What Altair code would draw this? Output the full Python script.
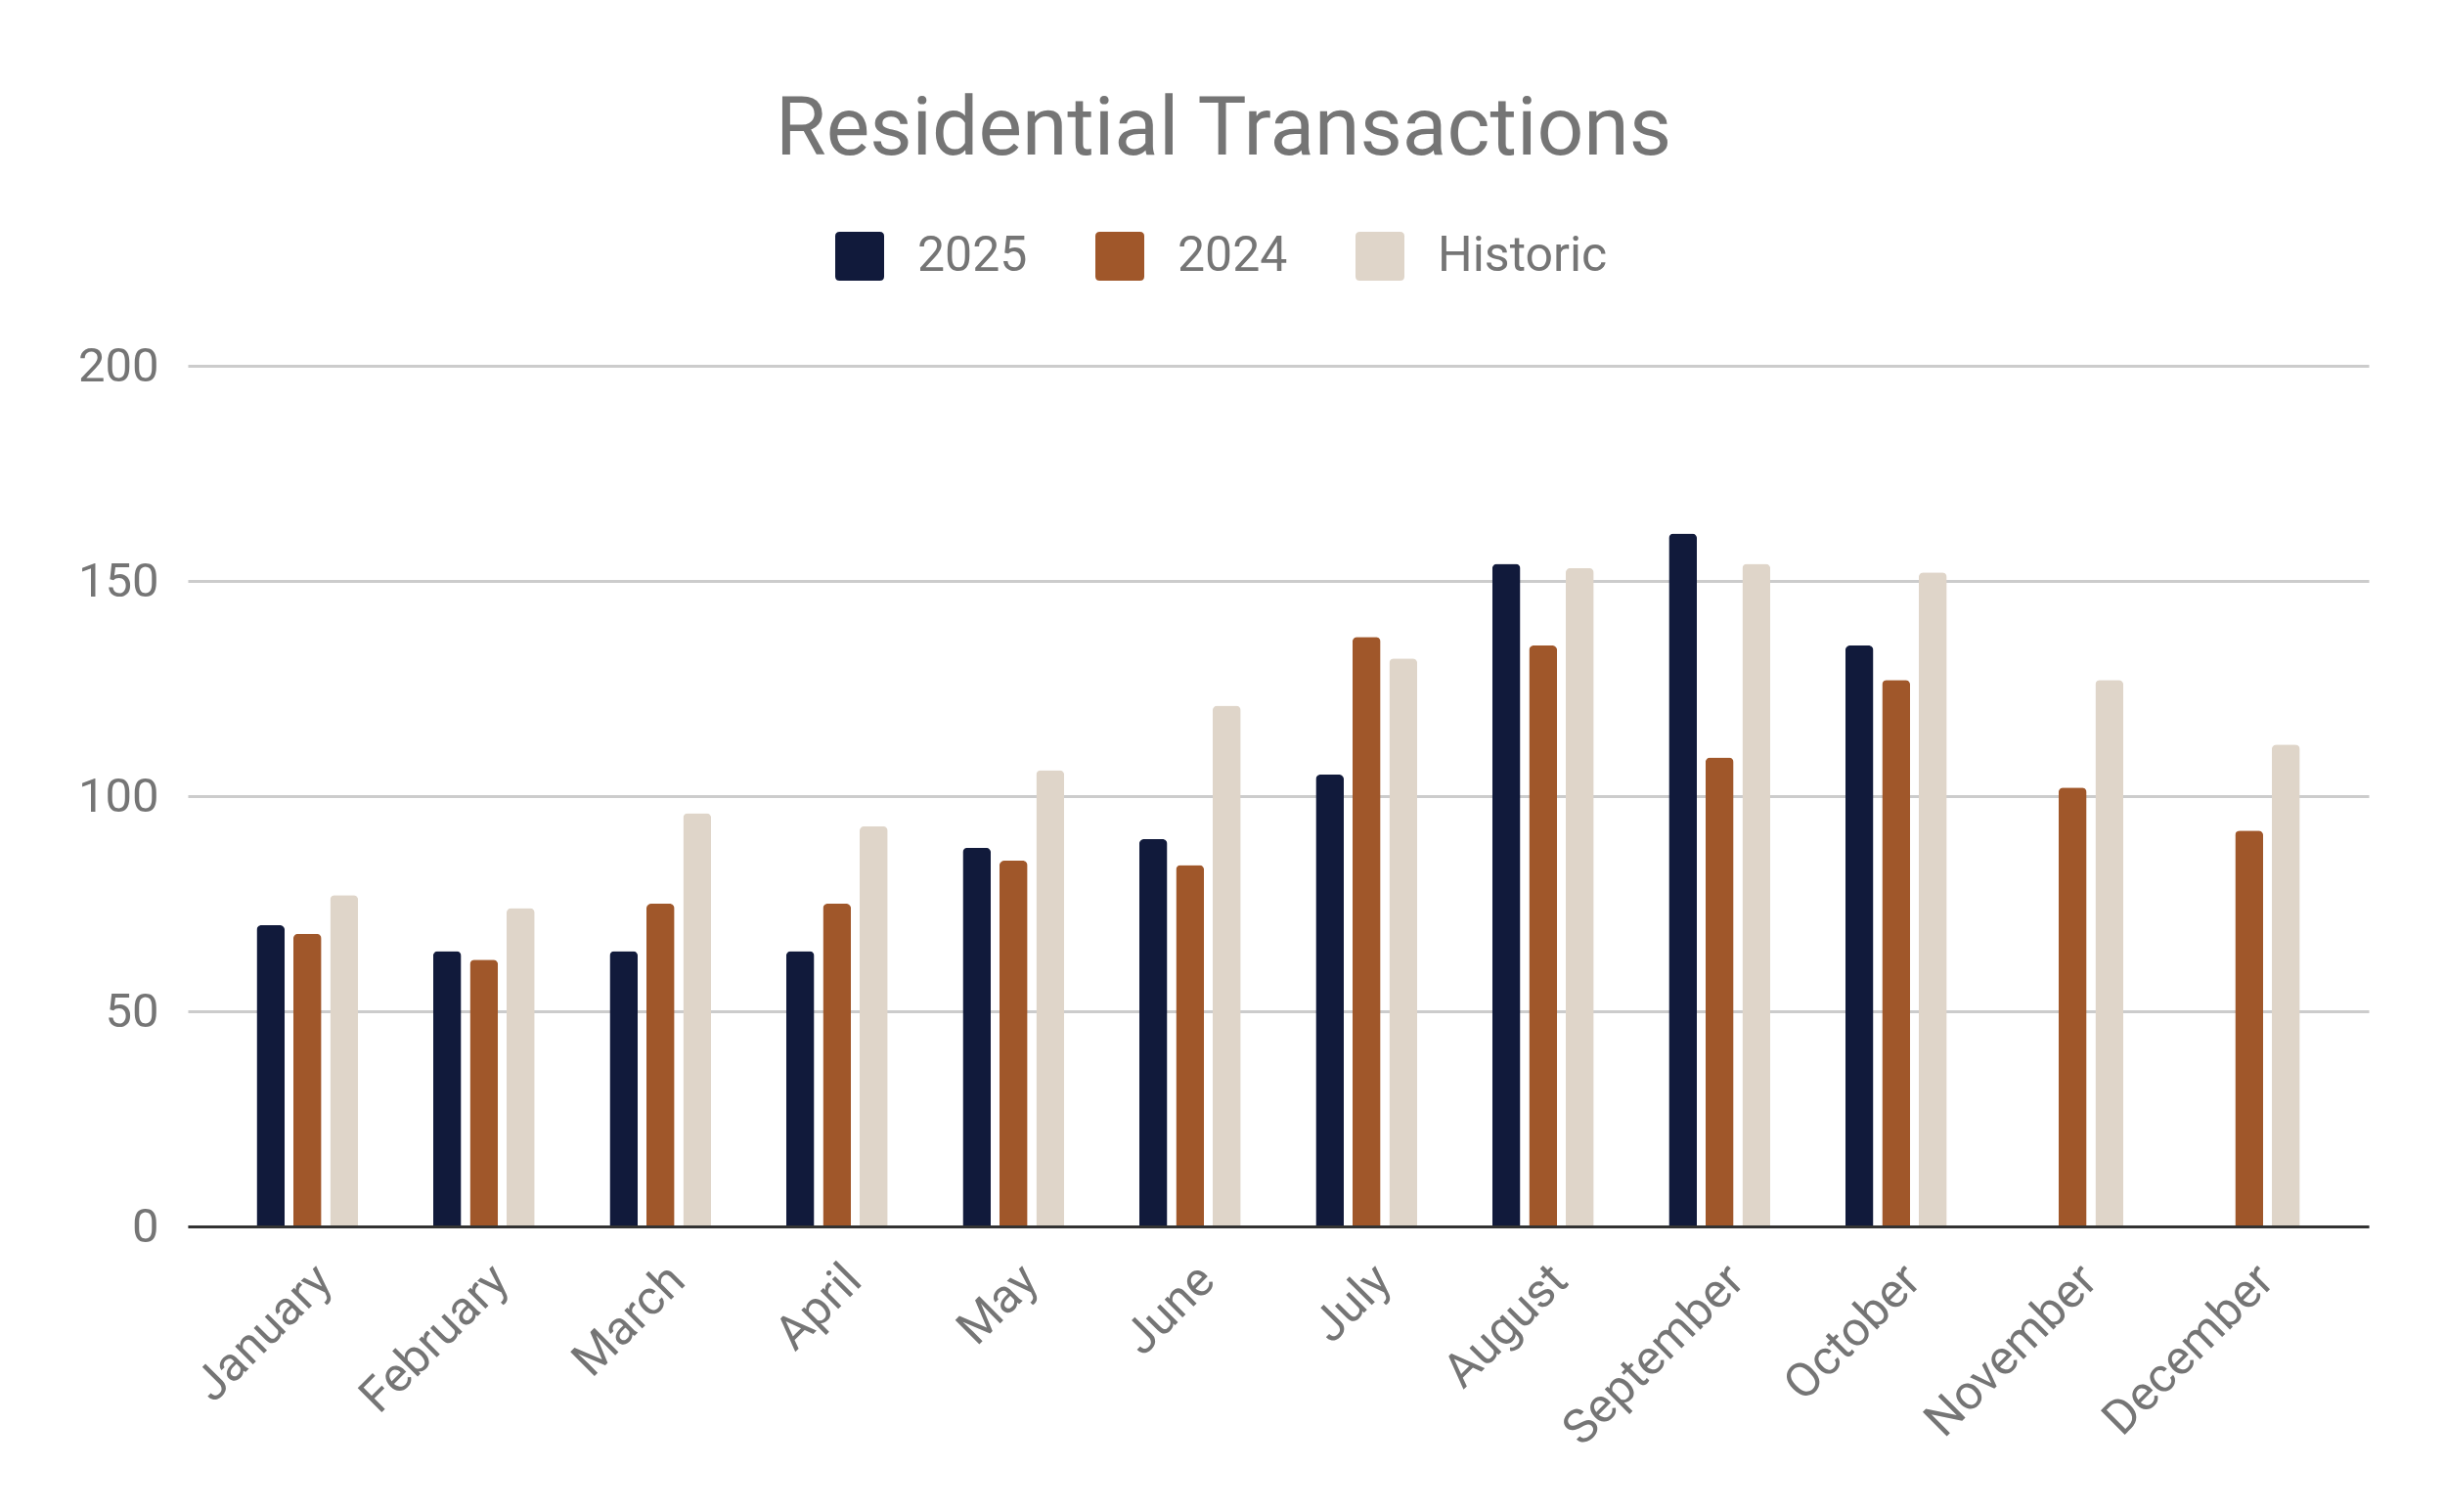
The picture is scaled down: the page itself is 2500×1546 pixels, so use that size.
import altair as alt
import pandas as pd

months = ["January", "February", "March", "April", "May", "June", "July",
          "August", "September", "October", "November", "December"]
series = ["2025", "2024", "Historic"]
v2025 = [70, 64, 64, 64, 88, 90, 105, 154, 161, 135, None, None]
v2024 = [68, 62, 75, 75, 85, 84, 137, 135, 109, 127, 102, 92]
vhist = [77, 74, 96, 93, 106, 121, 132, 153, 154, 152, 127, 112]
colors = ["#111a3b", "#a0572a", "#dfd5c9"]

rows = []
for name, vals in zip(series, [v2025, v2024, vhist]):
    for m, v in zip(months, vals):
        if v is not None:
            rows.append({"Month": m, "Series": name, "Value": v})
df = pd.DataFrame(rows)

rounded = ("M-0.82,-1 L0.82,-1 Q1,-1 1,-0.82 L1,0.82 Q1,1 0.82,1 "
           "L-0.82,1 Q-1,1 -1,0.82 L-1,-0.82 Q-1,-1 -0.82,-1 Z")

FONT = "Roboto"
GREY = "#757575"

chart = alt.Chart(df).mark_bar(
    cornerRadiusTopLeft=5, cornerRadiusTopRight=5
).encode(
    x=alt.X("Month:N", sort=months,
            scale=alt.Scale(paddingInner=0.425, paddingOuter=0.39),
            axis=alt.Axis(title=None, labelAngle=-45, labelFontSize=49,
                          labelColor=GREY, labelFont=FONT, ticks=False,
                          domainColor="#333333", domainWidth=3,
                          labelPadding=30, labelLimit=400, zindex=1)),
    xOffset=alt.XOffset("Series:N", sort=series,
                        scale=alt.Scale(domain=series, paddingInner=0.236, paddingOuter=0)),
    y=alt.Y("Value:Q", scale=alt.Scale(domain=[0, 200], nice=False),
            axis=alt.Axis(title=None, values=[0, 50, 100, 150, 200],
                          labelFontSize=49, labelColor=GREY, labelFont=FONT,
                          labelPadding=30, ticks=False, domain=False,
                          gridColor="#cccccc", gridWidth=3)),
    color=alt.Color("Series:N", sort=series,
                    scale=alt.Scale(domain=series, range=colors),
                    legend=alt.Legend(title=None, orient="none", direction="horizontal",
                                      legendX=662, legendY=-137,
                                      symbolType=rounded, symbolSize=2500,
                                      symbolStrokeWidth=0, symbolOpacity=1,
                                      labelFontSize=50, labelColor=GREY, labelFont=FONT,
                                      labelOffset=34, columnPadding=69, labelLimit=400)),
).properties(
    width=2230, height=880,
    title=alt.TitleParams("Residential Transactions", fontSize=84, font=FONT,
                          color=GREY, fontWeight="normal", anchor="middle",
                          baseline="alphabetic", offset=0, dy=5, dx=-56),
    autosize=alt.AutoSizeParams(type="none"),
    padding={"left": 184, "top": 366, "right": 70, "bottom": 284},
).configure_view(stroke=None)

chart.save("out.html", embed_options={"renderer": "svg", "actions": False})
